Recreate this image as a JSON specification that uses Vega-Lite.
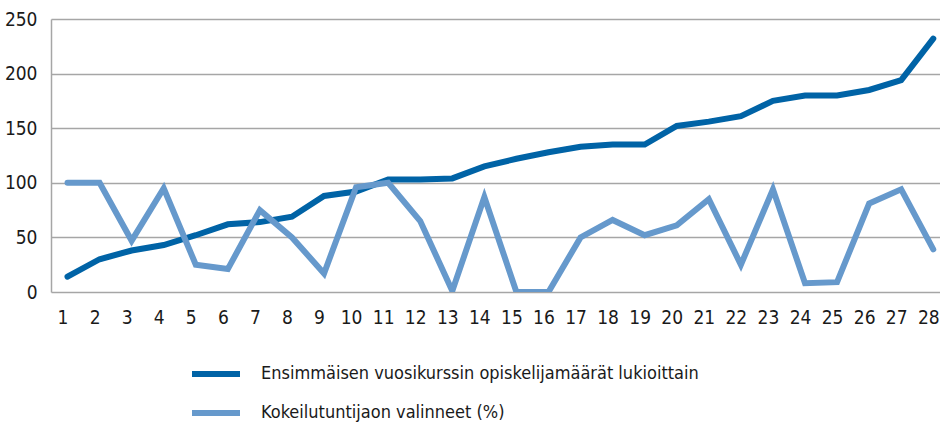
{
  "$schema": "https://vega.github.io/schema/vega-lite/v6.json",
  "autosize": "none",
  "padding": {"left": 51, "top": 19, "right": 0, "bottom": 134},
  "width": 889,
  "height": 273,
  "background": "white",
  "config": {
    "font": "DejaVu Sans Condensed, sans-serif",
    "view": {"stroke": null}
  },
  "data": {
    "values": [
      {"n": 1, "Ensimmäisen vuosikurssin opiskelijamäärät lukioittain": 14, "Kokeilutuntijaon valinneet (%)": 100},
      {"n": 2, "Ensimmäisen vuosikurssin opiskelijamäärät lukioittain": 30, "Kokeilutuntijaon valinneet (%)": 100},
      {"n": 3, "Ensimmäisen vuosikurssin opiskelijamäärät lukioittain": 38, "Kokeilutuntijaon valinneet (%)": 47},
      {"n": 4, "Ensimmäisen vuosikurssin opiskelijamäärät lukioittain": 43, "Kokeilutuntijaon valinneet (%)": 95},
      {"n": 5, "Ensimmäisen vuosikurssin opiskelijamäärät lukioittain": 52, "Kokeilutuntijaon valinneet (%)": 25},
      {"n": 6, "Ensimmäisen vuosikurssin opiskelijamäärät lukioittain": 62, "Kokeilutuntijaon valinneet (%)": 21},
      {"n": 7, "Ensimmäisen vuosikurssin opiskelijamäärät lukioittain": 64, "Kokeilutuntijaon valinneet (%)": 75},
      {"n": 8, "Ensimmäisen vuosikurssin opiskelijamäärät lukioittain": 69, "Kokeilutuntijaon valinneet (%)": 50},
      {"n": 9, "Ensimmäisen vuosikurssin opiskelijamäärät lukioittain": 88, "Kokeilutuntijaon valinneet (%)": 17},
      {"n": 10, "Ensimmäisen vuosikurssin opiskelijamäärät lukioittain": 92, "Kokeilutuntijaon valinneet (%)": 96},
      {"n": 11, "Ensimmäisen vuosikurssin opiskelijamäärät lukioittain": 103, "Kokeilutuntijaon valinneet (%)": 100},
      {"n": 12, "Ensimmäisen vuosikurssin opiskelijamäärät lukioittain": 103, "Kokeilutuntijaon valinneet (%)": 65},
      {"n": 13, "Ensimmäisen vuosikurssin opiskelijamäärät lukioittain": 104, "Kokeilutuntijaon valinneet (%)": 1},
      {"n": 14, "Ensimmäisen vuosikurssin opiskelijamäärät lukioittain": 115, "Kokeilutuntijaon valinneet (%)": 87},
      {"n": 15, "Ensimmäisen vuosikurssin opiskelijamäärät lukioittain": 122, "Kokeilutuntijaon valinneet (%)": 0},
      {"n": 16, "Ensimmäisen vuosikurssin opiskelijamäärät lukioittain": 128, "Kokeilutuntijaon valinneet (%)": 0},
      {"n": 17, "Ensimmäisen vuosikurssin opiskelijamäärät lukioittain": 133, "Kokeilutuntijaon valinneet (%)": 50},
      {"n": 18, "Ensimmäisen vuosikurssin opiskelijamäärät lukioittain": 135, "Kokeilutuntijaon valinneet (%)": 66},
      {"n": 19, "Ensimmäisen vuosikurssin opiskelijamäärät lukioittain": 135, "Kokeilutuntijaon valinneet (%)": 52},
      {"n": 20, "Ensimmäisen vuosikurssin opiskelijamäärät lukioittain": 152, "Kokeilutuntijaon valinneet (%)": 61},
      {"n": 21, "Ensimmäisen vuosikurssin opiskelijamäärät lukioittain": 156, "Kokeilutuntijaon valinneet (%)": 85},
      {"n": 22, "Ensimmäisen vuosikurssin opiskelijamäärät lukioittain": 161, "Kokeilutuntijaon valinneet (%)": 25},
      {"n": 23, "Ensimmäisen vuosikurssin opiskelijamäärät lukioittain": 175, "Kokeilutuntijaon valinneet (%)": 94},
      {"n": 24, "Ensimmäisen vuosikurssin opiskelijamäärät lukioittain": 180, "Kokeilutuntijaon valinneet (%)": 8},
      {"n": 25, "Ensimmäisen vuosikurssin opiskelijamäärät lukioittain": 180, "Kokeilutuntijaon valinneet (%)": 9},
      {"n": 26, "Ensimmäisen vuosikurssin opiskelijamäärät lukioittain": 185, "Kokeilutuntijaon valinneet (%)": 81},
      {"n": 27, "Ensimmäisen vuosikurssin opiskelijamäärät lukioittain": 194, "Kokeilutuntijaon valinneet (%)": 94},
      {"n": 28, "Ensimmäisen vuosikurssin opiskelijamäärät lukioittain": 232, "Kokeilutuntijaon valinneet (%)": 39}
    ]
  },
  "transform": [
    {"fold": ["Ensimmäisen vuosikurssin opiskelijamäärät lukioittain", "Kokeilutuntijaon valinneet (%)"], "as": ["sarja", "arvo"]}
  ],
  "mark": {"type": "line", "strokeWidth": 6, "strokeCap": "round", "strokeJoin": "miter", "clip": true},
  "encoding": {
    "x": {
      "field": "n",
      "type": "quantitative",
      "scale": {"domain": [0.485, 28.21], "nice": false, "zero": false},
      "axis": {
        "title": null,
        "values": [1,2,3,4,5,6,7,8,9,10,11,12,13,14,15,16,17,18,19,20,21,22,23,24,25,26,27,28],
        "grid": false,
        "ticks": false,
        "domain": false,
        "labelFontSize": 19,
        "labelColor": "#1a1a1a",
        "labelPadding": 16,
        "labelOffset": -5,
        "labelFlush": false,
        "labelOverlap": false
      }
    },
    "y": {
      "field": "arvo",
      "type": "quantitative",
      "scale": {"domain": [0, 250], "nice": false},
      "axis": {
        "title": null,
        "values": [0, 50, 100, 150, 200, 250],
        "grid": true,
        "gridColor": "#a6a6a6",
        "gridWidth": 1.5,
        "ticks": false,
        "domain": true,
        "domainColor": "#a6a6a6",
        "domainWidth": 1.5,
        "labelFontSize": 19,
        "labelColor": "#1a1a1a",
        "labelPadding": 14
      }
    },
    "color": {
      "field": "sarja",
      "type": "nominal",
      "scale": {
        "domain": ["Ensimmäisen vuosikurssin opiskelijamäärät lukioittain", "Kokeilutuntijaon valinneet (%)"],
        "range": ["#0063a6", "#6699cc"]
      },
      "legend": {
        "title": null,
        "orient": "none",
        "legendX": 138,
        "legendY": 328,
        "symbolType": "stroke",
        "symbolSize": 2304,
        "symbolStrokeWidth": 6,
        "labelFontSize": 18,
        "labelColor": "#1a1a1a",
        "labelOffset": 18,
        "rowPadding": -11,
        "labelLimit": 600,
        "padding": 0
      }
    }
  }
}
